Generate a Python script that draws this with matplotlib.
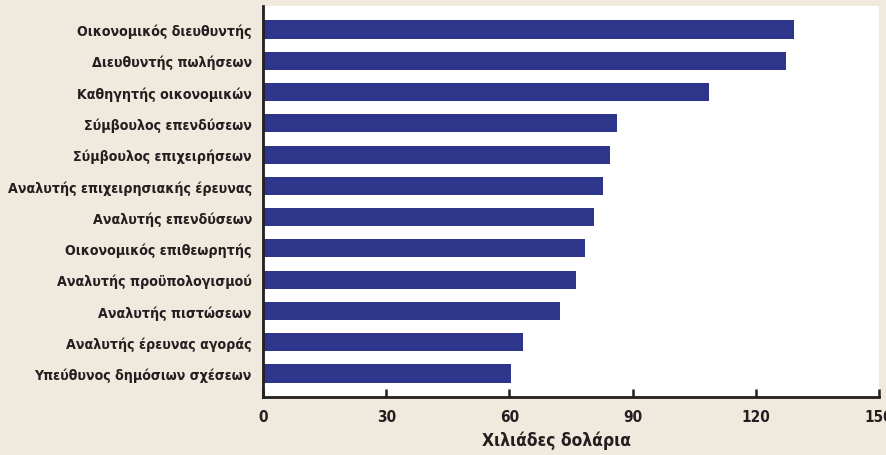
import matplotlib.pyplot as plt

# job titles, top to bottom
jobs = ["Οικονομικός διευθυντής", "Διευθυντής πωλήσεων", "Καθηγητής οικονομικών",
        "Σύμβουλος επενδύσεων", "Σύμβουλος επιχειρήσεων",
        "Αναλυτής επιχειρησιακής έρευνας", "Αναλυτής επενδύσεων",
        "Οικονομικός επιθεωρητής", "Αναλυτής προϋπολογισμού",
        "Αναλυτής πιστώσεων", "Αναλυτής έρευνας αγοράς",
        "Υπεύθυνος δημόσιων σχέσεων"]
# salary, thousands of dollars
salary = [129.3, 127.3, 108.5, 86.1, 84.4, 82.9, 80.5, 78.5, 76.1, 72.2, 63.3, 60.5]
xticks = [0, 30, 60, 90, 120, 150]

bg = "#f0e9de"
navy = "#2e368c"
ink = "#231f20"
font = ["DejaVu Sans"]

fig = plt.figure(figsize=(8.87, 4.56), dpi=100, facecolor=bg)
ax = fig.add_axes([263 / 887, 58 / 456, 616 / 887, 391 / 456])
ax.set_facecolor("white")

ypos = list(range(len(jobs)))
ax.barh(ypos, salary, height=0.58, color=navy)
ax.set_ylim(len(jobs) - 0.25, -0.75)
ax.set_xlim(0, 150)

ax.set_yticks(ypos)
ax.set_yticklabels(jobs, family=font, fontweight="bold", fontstretch="condensed",
                   fontsize=10.2, color=ink)
ax.tick_params(axis="y", length=0, pad=8)
ax.set_xticks(xticks)
ax.set_xticklabels([str(t) for t in xticks], family=font, fontweight="bold",
                   fontstretch="condensed", fontsize=11, color=ink)
ax.tick_params(axis="x", direction="in", length=6, width=1.8, color=ink, pad=9)

for s in ["top", "right"]:
    ax.spines[s].set_visible(False)
for s in ["left", "bottom"]:
    ax.spines[s].set_linewidth(2)
    ax.spines[s].set_color(ink)

ax.set_xlabel("Χιλιάδες δολάρια", family=font, fontweight="bold", fontstretch="condensed",
              fontsize=12.5, color=ink)
ax.xaxis.set_label_coords(0.477, -0.085)

fig.savefig("out.png", dpi=100, facecolor=bg)
